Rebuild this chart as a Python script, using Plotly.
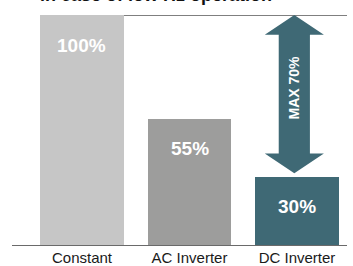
import plotly.graph_objects as go

categories = ["Constant", "AC Inverter", "DC Inverter"]
values = [100, 55, 30]
labels = ["100%", "55%", "30%"]
bar_colors = ["#c6c6c6", "#9d9d9c", "#3f6975"]
title_text = "in case of low Hz operation"
arrow_label = "MAX 70%"

FONT = "Liberation Sans, Arial, Helvetica, sans-serif"
xs = list(range(len(categories)))

fig = go.Figure()
fig.add_trace(go.Bar(
    x=xs, y=values, width=0.78,
    marker=dict(color=bar_colors, line=dict(width=0)),
    hoverinfo="skip",
))

# bar value labels
for xi, v, t in zip(xs, values, labels):
    fig.add_annotation(x=xi, y=v, text=f"<b>{t}</b>", showarrow=False,
                       yshift=-30, font=dict(family=FONT, size=19, color="white"),
                       xref="x", yref="y")

# top reference line at 100 and baseline
fig.add_shape(type="line", xref="x", yref="y", x0=xs[0] - 0.39, x1=2.465,
              y0=max(values), y1=max(values), line=dict(color="#555555", width=1.5), layer="below")
fig.add_shape(type="line", xref="paper", yref="y", x0=0, x1=1, y0=0, y1=0,
              line=dict(color="#6a6a6a", width=2))

# double-headed arrow from DC bar top to 100
cx = xs[2] - 0.025
top = max(values)
bot = values[2] + 1.5
sw, hw, hh = 0.145, 0.275, 8.5
path = (f"M {cx},{top} L {cx+hw},{top-hh} L {cx+sw},{top-hh} L {cx+sw},{bot+hh} "
        f"L {cx+hw},{bot+hh} L {cx},{bot} L {cx-hw},{bot+hh} L {cx-sw},{bot+hh} "
        f"L {cx-sw},{top-hh} L {cx-hw},{top-hh} Z")
fig.add_shape(type="path", path=path, xref="x", yref="y",
              fillcolor="#3f6975", line=dict(width=0))
fig.add_annotation(x=cx, y=(top + bot) / 2 + 3, text=f"<b>{arrow_label}</b>", textangle=-90,
                   showarrow=False, font=dict(family=FONT, size=14, color="white"),
                   xref="x", yref="y")

# title (clipped at the top edge, as in the reference)
fig.add_annotation(x=(156 - 12) / 335, xref="paper", y=1, yref="paper", xanchor="center",
                   yanchor="bottom", yshift=8, text=f"<b>{title_text}</b>", showarrow=False,
                   font=dict(family=FONT, size=18, color="#111111"))

fig.update_layout(
    width=353, height=266,
    margin=dict(l=12, r=6, t=15, b=20),
    paper_bgcolor="white", plot_bgcolor="white",
    showlegend=False, bargap=0,
    xaxis=dict(range=[-0.651, 2.465], tickvals=xs, ticktext=categories,
               showgrid=False, zeroline=False, showline=False, ticks="", ticklen=0,
               ticklabelstandoff=1,
               tickfont=dict(family=FONT, size=15, color="#1a1a1a"),
               automargin=False, fixedrange=True),
    yaxis=dict(range=[0, 100], visible=False, showgrid=False, zeroline=False,
               automargin=False, fixedrange=True),
)
fig.write_html("out.html", config={"displayModeBar": False},
               post_script="document.body.style.margin='0';")
